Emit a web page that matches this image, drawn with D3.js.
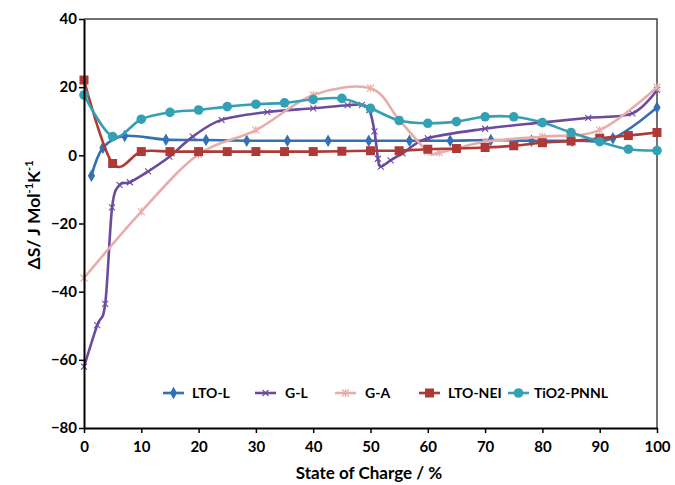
<!DOCTYPE html>
<html><head><meta charset="utf-8">
<script src="https://cdn.jsdelivr.net/npm/d3@7"></script>
<style>
html,body{margin:0;padding:0;background:#fff;}
svg text{font-family:Lato,"Open Sans",sans-serif;font-weight:bold;}
</style></head>
<body><svg id="c" width="675" height="485"></svg>
<script>
// ---- data ----
const seriesNames = ["LTO-L","G-L","G-A","LTO-NEI","TiO2-PNNL"];
const ltoL_x = [1.3,3.3,7.1,14.3,21.3,28.4,35.5,42.6,49.7,56.8,63.9,71.0,78.1,85.2,92.3,100];
const ltoL_y = [-6,2.2,5.7,4.6,4.5,4.3,4.3,4.3,4.3,4.3,4.3,4.5,4.3,4.3,5.0,14];
const gL_x = [0,2.3,3.7,4.9,6.2,8.0,11.2,14.9,19,24.0,32,40.0,46,48.5,49.8,50.7,51.3,51.8,53.5,55.6,60,70,79.7,88,95.7,100];
const gL_y = [-62,-49.8,-43.6,-15.3,-8.7,-7.9,-4.7,-0.4,5.5,10.4,12.7,13.8,14.7,14.8,13.3,7,-1,-3.3,-1.5,0.6,5,7.8,9.6,11,12.3,19.2];
const gA_x = [0,10,20,30,40,50,55,60,62,70,80,90,100];
const gA_y = [-36,-16.5,0.3,7.4,17.7,19.7,10.4,1.1,0.8,4.0,5.5,7.4,20];
const ltoNEI_x = [0,5,10,15,20,25,30,35,40,45,50,55,60,65,70,75,80,85,90,95,100];
const ltoNEI_y = [22.1,-2.4,1.1,1.1,1.1,1.1,1.1,1.1,1.1,1.2,1.35,1.35,1.8,2.0,2.3,2.8,3.7,4.2,5.0,5.8,6.7];
const tio2_x = [0,5,10,15,20,25,30,35,40,45,50,55,60,65,70,75,80,85,90,95,100];
const tio2_y = [17.7,5.5,10.6,12.6,13.3,14.3,15.0,15.4,16.4,16.7,13.8,10.2,9.4,9.9,11.3,11.3,9.6,6.7,4.0,1.8,1.4];
const xTicks = [0,10,20,30,40,50,60,70,80,90,100];
const yTicks = [-80,-60,-40,-20,0,20,40];

const colors = ["#3470B4","#6B4B9E","#E8ADAB","#AE3A37","#34A0B3"];
const symbols = ["diamond","times","asterisk","square","circle"];
const xs = [ltoL_x,gL_x,gA_x,ltoNEI_x,tio2_x];
const ys = [ltoL_y,gL_y,gA_y,ltoNEI_y,tio2_y];

const svg = d3.select("#c");
const x = d3.scaleLinear().domain([0,100]).range([84,657]);
const y = d3.scaleLinear().domain([-80,40]).range([428,19]);

// frame top/right
svg.append("path").attr("d",`M${x(0)},${y(40)}H${x(100)}V${y(-80)}`)
  .attr("fill","none").attr("stroke","#444").attr("stroke-width",1.5);

const line = d3.line().curve(d3.curveCardinal.tension(0));

function marker(g, type, color, cx, cy){
  if(type==="diamond"){
    g.append("path").attr("d",d3.symbol(d3.symbolDiamond,45)()).attr("transform",`translate(${cx},${cy})`).attr("fill",color);
  } else if(type==="square"){
    g.append("rect").attr("x",cx-4.5).attr("y",cy-4.5).attr("width",9).attr("height",9).attr("fill",color);
  } else if(type==="circle"){
    g.append("circle").attr("cx",cx).attr("cy",cy).attr("r",4.8).attr("fill",color);
  } else if(type==="times"){
    g.append("path").attr("d",`M${cx-3},${cy-3}L${cx+3},${cy+3}M${cx-3},${cy+3}L${cx+3},${cy-3}`).attr("stroke",color).attr("stroke-width",1.1).attr("fill","none");
  } else if(type==="asterisk"){
    g.append("path").attr("d",`M${cx-3.5},${cy-3.5}L${cx+3.5},${cy+3.5}M${cx-3.5},${cy+3.5}L${cx+3.5},${cy-3.5}M${cx},${cy-4}L${cx},${cy+4}`).attr("stroke",color).attr("stroke-width",1.2).attr("fill","none");
  }
}

seriesNames.forEach((name,i)=>{
  const g = svg.append("g");
  const pts = xs[i].map((v,j)=>[x(v), y(ys[i][j])]);
  g.append("path").attr("d",line(pts)).attr("fill","none").attr("stroke",colors[i]).attr("stroke-width",2.6);
  pts.forEach(p=>marker(g,symbols[i],colors[i],p[0],p[1]));
});

// axes
const ax = svg.append("g").attr("transform",`translate(0,${y(-80)})`)
  .call(d3.axisBottom(x).tickValues(xTicks).tickSize(5).tickSizeOuter(0));
const ay = svg.append("g").attr("transform",`translate(${x(0)},0)`)
  .call(d3.axisLeft(y).tickValues(yTicks).tickSize(5).tickSizeOuter(0));
[ax,ay].forEach(a=>{
  a.select(".domain").attr("stroke","#000").attr("stroke-width",2);
  a.selectAll(".tick line").attr("stroke","#000").attr("stroke-width",1.5);
  a.selectAll("text").attr("fill","#000").style("font-size","15px").style("font-family","Lato,sans-serif").style("font-weight","bold");
});
ax.selectAll("text").attr("dy","1.05em");
ay.selectAll("text").attr("x",-7);

// axis titles
svg.append("text").attr("x",369).attr("y",479).attr("text-anchor","middle")
  .style("font-size","17px").text("State of Charge / %");
const yt = svg.append("text").attr("transform",`translate(40,215) rotate(-90)`).attr("text-anchor","middle")
  .style("font-size","17.5px");
yt.append("tspan").text("\u0394S/ J Mol");
yt.append("tspan").attr("dy",-7).style("font-size","11px").text("-1");
yt.append("tspan").attr("dy",7).text("K");
yt.append("tspan").attr("dy",-7).style("font-size","11px").text("-1");

// legend
const legX = [163,255,335,419,508];
const legTX = [192,285,365,448,534];
seriesNames.forEach((name,i)=>{
  const g = svg.append("g");
  const ly = 393;
  g.append("line").attr("x1",legX[i]).attr("x2",legX[i]+21).attr("y1",ly).attr("y2",ly)
    .attr("stroke",colors[i]).attr("stroke-width",2.6);
  marker(g,symbols[i],colors[i],legX[i]+10.5,ly);
  g.append("text").attr("x",legTX[i]).attr("y",ly+5).style("font-size","14px").attr("fill","#000").text(name);
});
</script></body></html>
